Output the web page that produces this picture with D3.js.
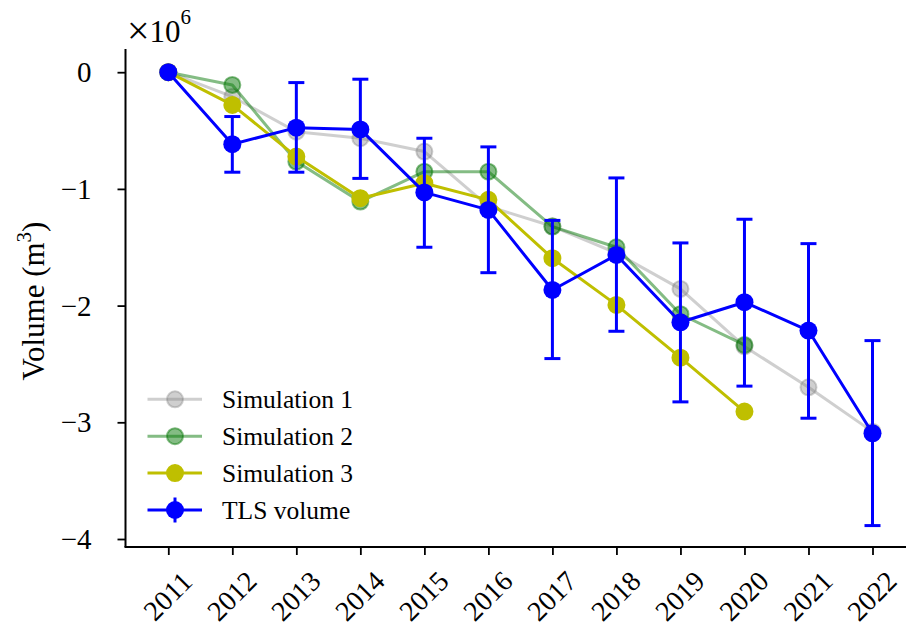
<!DOCTYPE html>
<html>
<head>
<meta charset="utf-8">
<script src="https://cdn.jsdelivr.net/npm/d3@7"></script>
<style>
  html, body { margin: 0; padding: 0; background: #fff; }
  svg { display: block; }
  text { font-family: "Liberation Serif", "Times New Roman", serif; fill: #000; }
</style>
</head>
<body>
<svg id="chart" width="906" height="627"></svg>
<script>
// ---- data (volume in units of 10^6 m^3) ----
const years = [2011, 2012, 2013, 2014, 2015, 2016, 2017, 2018, 2019, 2020, 2021, 2022];
const sim1 = [0, -0.21, -0.51, -0.566, -0.68, -1.15, -1.32, -1.55, -1.857, -2.35, -2.70, -3.08];
const sim2 = [0, -0.109, -0.766, -1.109, -0.852, -0.852, -1.323, -1.50, -2.074, -2.337];
const sim3 = [0, -0.28, -0.723, -1.08, -0.951, -1.094, -1.594, -1.994, -2.446, -2.908];
const tls = [0, -0.617, -0.475, -0.49, -1.03, -1.18, -1.866, -1.566, -2.143, -1.971, -2.214, -3.094];
const tlsUpper = [0, -0.38, -0.089, -0.06, -0.566, -0.64, -1.27, -0.906, -1.463, -1.26, -1.469, -2.30];
const tlsLower = [0, -0.857, -0.857, -0.91, -1.50, -1.718, -2.454, -2.22, -2.825, -2.69, -2.965, -3.885];
const yTicks = [0, -1, -2, -3, -4];
const seriesNames = ["Simulation 1", "Simulation 2", "Simulation 3", "TLS volume"];

const svg = d3.select("#chart");
const x = d3.scaleLinear().domain([2011, 2022]).range([168.3, 872.5]);
const y = d3.scaleLinear().domain([0, -4]).range([72.2, 539]);

const plotLeft = 125.5, plotTop = 49, plotBottom = 547, plotRight = 906;

// ---- axes ----
const yAxis = d3.axisLeft(y).tickValues(yTicks).tickSize(8).tickPadding(26)
  .tickFormat(d => d === 0 ? "0" : "\u2212" + Math.abs(d));
const gy = svg.append("g").attr("transform", `translate(${plotLeft},0)`).call(yAxis);
gy.attr("font-family", null).attr("font-size", null);
gy.select(".domain").remove();
gy.selectAll(".tick line").attr("stroke", "#000").attr("stroke-width", 1.8);
gy.selectAll(".tick text").attr("font-size", 29).attr("dy", "0.33em");
svg.append("line").attr("x1", plotLeft).attr("x2", plotLeft).attr("y1", plotTop).attr("y2", plotBottom)
  .attr("stroke", "#000").attr("stroke-width", 2);

const xAxis = d3.axisBottom(x).tickValues(years).tickSize(8).tickFormat(d3.format("d"));
const gx = svg.append("g").attr("transform", `translate(0,${plotBottom})`).call(xAxis);
gx.attr("font-family", null).attr("font-size", null);
gx.select(".domain").remove();
gx.selectAll(".tick line").attr("stroke", "#000").attr("stroke-width", 1.8);
gx.selectAll(".tick text")
  .attr("font-size", 28)
  .attr("text-anchor", "middle")
  .attr("dy", null)
  .attr("y", null)
  .attr("dominant-baseline", "central")
  .attr("transform", "translate(-1,49) rotate(-45)");
svg.append("line").attr("x1", plotLeft - 1).attr("x2", plotRight).attr("y1", plotBottom).attr("y2", plotBottom)
  .attr("stroke", "#000").attr("stroke-width", 2);

// offset label x10^6
const off = svg.append("text").attr("x", 127).attr("y", 42).attr("font-size", 31);
off.append("tspan").attr("font-size", 40).attr("dy", 2).text("\u00d7");
off.append("tspan").attr("dy", -2).text("10");
off.append("tspan").attr("font-size", 21).attr("dy", -18).text("6");

// y label
const yl = svg.append("text").attr("transform", "translate(44,301) rotate(-90)")
  .attr("text-anchor", "middle").attr("font-size", 31);
yl.append("tspan").text("Volume (m");
yl.append("tspan").attr("font-size", 21).attr("dy", -13).text("3");
yl.append("tspan").attr("dy", 13).text(")");

// ---- series ----
const line = d3.line().x((d, i) => x(years[i])).y(d => y(d));

function drawSeries(vals, color, alpha, r) {
  const g = svg.append("g");
  g.append("path").datum(vals).attr("d", line).attr("fill", "none")
    .attr("stroke", color).attr("stroke-opacity", alpha).attr("stroke-width", 3)
    .attr("stroke-linejoin", "round");
  g.selectAll("circle").data(vals).join("circle")
    .attr("cx", (d, i) => x(years[i])).attr("cy", d => y(d)).attr("r", r)
    .attr("fill", color).attr("fill-opacity", alpha)
    .attr("stroke", color).attr("stroke-opacity", alpha).attr("stroke-width", 2);
  return g;
}

drawSeries(sim1, "#808080", 0.38, 8);
drawSeries(sim2, "#0a7a0a", 0.5, 8);
drawSeries(sim3, "#bfbf00", 1, 8);

// TLS with error bars
const gt = svg.append("g");
const errs = years.map((yr, i) => ({ yr, lo: tlsLower[i], hi: tlsUpper[i] })).filter(d => d.lo !== d.hi);
gt.selectAll("line.err").data(errs).join("line").attr("class", "err")
  .attr("x1", d => x(d.yr)).attr("x2", d => x(d.yr))
  .attr("y1", d => y(d.hi)).attr("y2", d => y(d.lo))
  .attr("stroke", "#0000ff").attr("stroke-width", 3);
["hi", "lo"].forEach(k => {
  gt.selectAll("line.cap" + k).data(errs).join("line").attr("class", "cap" + k)
    .attr("x1", d => x(d.yr) - 8).attr("x2", d => x(d.yr) + 8)
    .attr("y1", d => y(d[k])).attr("y2", d => y(d[k]))
    .attr("stroke", "#0000ff").attr("stroke-width", 3);
});
gt.append("path").datum(tls).attr("d", line).attr("fill", "none")
  .attr("stroke", "#0000ff").attr("stroke-width", 3).attr("stroke-linejoin", "round");
gt.selectAll("circle").data(tls).join("circle")
  .attr("cx", (d, i) => x(years[i])).attr("cy", d => y(d)).attr("r", 9)
  .attr("fill", "#0000ff");

// ---- legend ----
const legendStyles = [
  { color: "#808080", alpha: 0.38, err: false },
  { color: "#0a7a0a", alpha: 0.5, err: false },
  { color: "#bfbf00", alpha: 1, err: false },
  { color: "#0000ff", alpha: 1, err: true }
];
const legY = d3.scaleLinear().domain([0, 3]).range([399.3, 510]);
seriesNames.forEach((name, i) => {
  const s = legendStyles[i];
  const cy = legY(i);
  const g = svg.append("g");
  if (s.err) {
    g.append("line").attr("x1", 175).attr("x2", 175).attr("y1", cy - 12.5).attr("y2", cy + 12.5)
      .attr("stroke", s.color).attr("stroke-width", 3);
  }
  g.append("line").attr("x1", 147.5).attr("x2", 202).attr("y1", cy).attr("y2", cy)
    .attr("stroke", s.color).attr("stroke-opacity", s.alpha).attr("stroke-width", 3);
  g.append("circle").attr("cx", 175).attr("cy", cy).attr("r", s.err ? 9 : 8)
    .attr("fill", s.color).attr("fill-opacity", s.alpha)
    .attr("stroke", s.color).attr("stroke-opacity", s.alpha).attr("stroke-width", s.err ? 0 : 2);
  g.append("text").attr("x", 222).attr("y", cy + 9).attr("font-size", 25.5).text(name);
});
</script>
</body>
</html>
